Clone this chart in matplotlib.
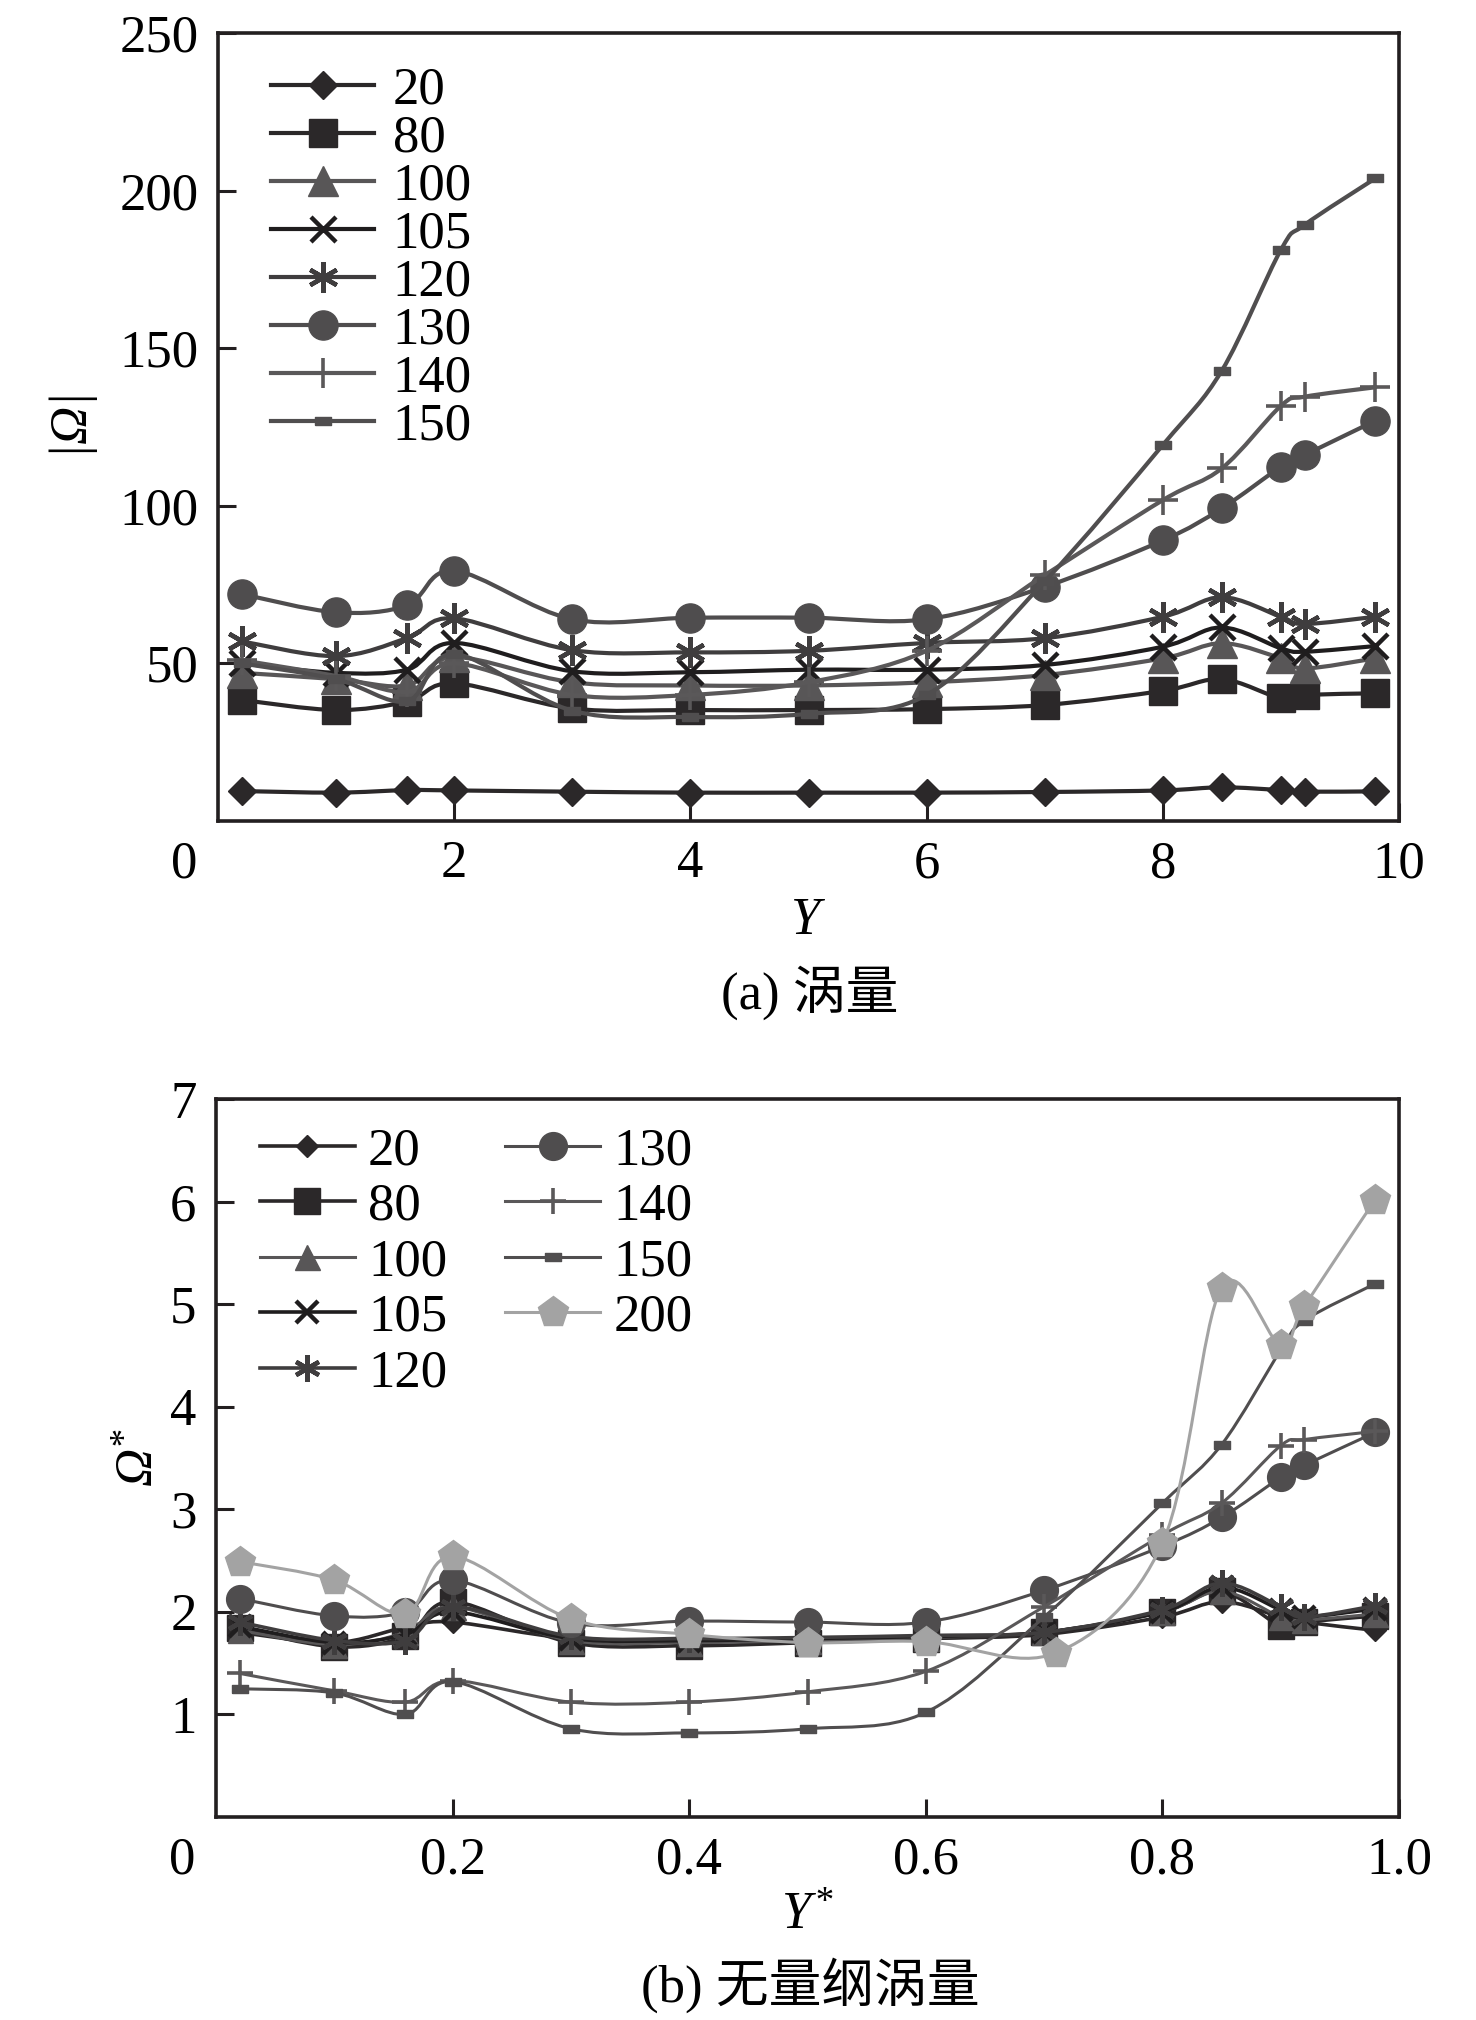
import numpy as np
import matplotlib
matplotlib.use("Agg")
import matplotlib.pyplot as plt
from matplotlib.lines import Line2D
from matplotlib.patches import PathPatch
from matplotlib.path import Path


OUTPUT_PATH = "out.png"

# panel (a): vorticity magnitude |Omega| against Y
Y_POS = [0.2, 1.0, 1.6, 2.0, 3.0, 4.0, 5.0, 6.0, 7.0, 8.0, 8.5, 9.0, 9.2, 9.8]
OMEGA_20 = [9.5, 9.0, 9.8, 9.7, 9.3, 9.0, 9.0, 9.0, 9.2, 9.7, 10.7, 9.8, 9.3, 9.4]
OMEGA_80 = [38.4, 35.2, 37.9, 43.7, 35.7, 35.2, 35.2, 35.5, 36.8, 41.3, 45.0, 38.9, 40.0, 40.5]
OMEGA_100 = [47.0, 45.0, 43.0, 52.0, 44.0, 43.0, 43.0, 44.0, 46.3, 51.6, 56.4, 51.6, 48.4, 51.6]
OMEGA_105 = [50.0, 47.0, 48.0, 56.5, 47.5, 47.2, 48.0, 48.0, 49.5, 55.3, 61.4, 54.8, 53.7, 55.5]
OMEGA_120 = [57.0, 52.3, 58.0, 64.3, 54.2, 53.5, 54.0, 56.5, 58.0, 64.8, 71.0, 64.8, 62.5, 64.8]
OMEGA_130 = [72.0, 66.2, 68.4, 79.4, 64.0, 64.5, 64.5, 64.0, 74.3, 89.0, 99.2, 112.4, 116.1, 127.0]
OMEGA_140 = [51.0, 46.0, 41.0, 50.0, 40.0, 40.0, 44.0, 54.0, 78.0, 101.8, 111.9, 131.7, 134.6, 137.6]
OMEGA_150 = [50.0, 45.0, 38.0, 53.0, 35.0, 33.0, 34.0, 40.0, 76.0, 119.3, 142.9, 181.2, 189.1, 203.9]

# panel (b): dimensionless vorticity Omega* against Y*
YSTAR_POS = [0.02, 0.10, 0.16, 0.20, 0.30, 0.40, 0.50, 0.60, 0.70, 0.80, 0.85, 0.90, 0.92, 0.98]
YSTAR_POS_200 = [0.02, 0.10, 0.16, 0.20, 0.30, 0.40, 0.50, 0.60, 0.71, 0.80, 0.85, 0.90, 0.92, 0.98]
OMEGA_STAR_20 = [1.80, 1.70, 1.85, 1.90, 1.74, 1.72, 1.72, 1.74, 1.78, 1.95, 2.10, 1.95, 1.90, 1.82]
OMEGA_STAR_80 = [1.84, 1.66, 1.76, 2.10, 1.70, 1.67, 1.70, 1.74, 1.80, 2.00, 2.20, 1.86, 1.90, 1.96]
OMEGA_STAR_100 = [1.82, 1.68, 1.80, 2.05, 1.72, 1.70, 1.72, 1.75, 1.80, 2.00, 2.20, 1.95, 1.92, 1.98]
OMEGA_STAR_105 = [1.86, 1.70, 1.78, 2.00, 1.74, 1.72, 1.74, 1.76, 1.80, 2.00, 2.24, 2.02, 1.95, 2.03]
OMEGA_STAR_120 = [1.90, 1.72, 1.72, 2.05, 1.76, 1.74, 1.75, 1.77, 1.80, 2.02, 2.28, 2.05, 1.95, 2.06]
OMEGA_STAR_130 = [2.13, 1.96, 2.00, 2.31, 1.89, 1.91, 1.90, 1.90, 2.21, 2.64, 2.92, 3.31, 3.43, 3.75]
OMEGA_STAR_140 = [1.40, 1.23, 1.12, 1.33, 1.12, 1.12, 1.22, 1.42, 2.05, 2.75, 3.06, 3.62, 3.68, 3.76]
OMEGA_STAR_150 = [1.25, 1.21, 1.00, 1.32, 0.86, 0.82, 0.86, 1.02, 1.95, 3.06, 3.63, 4.55, 4.84, 5.20]
OMEGA_STAR_200 = [2.49, 2.31, 1.98, 2.54, 1.93, 1.78, 1.70, 1.71, 1.60, 2.67, 5.16, 4.60, 4.98, 6.02]

SERIES_LABELS_A = ["20", "80", "100", "105", "120", "130", "140", "150"]
SERIES_LABELS_B = ["20", "80", "100", "105", "120", "130", "140", "150", "200"]

DASH_MARKER = [(-1.0, -0.45), (1.0, -0.45), (1.0, 0.45), (-1.0, 0.45), (-1.0, -0.45)]

# marker, colour, marker size (a), marker size (b), edge width
STYLES = {
    "20": ("D", "#2b2829", 14, 11, 1.0),
    "80": ("s", "#2b2829", 20, 19, 1.0),
    "100": ("^", "#585657", 21, 18, 1.0),
    "105": ("x", "#1f1d1e", 18, 16, 3.2),
    "120": ((6, 2, 0), "#3f3d3e", 22, 19, 3.2),
    "130": ("o", "#4f4d4e", 21, 20, 1.0),
    "140": ("+", "#5a5859", 21, 19, 2.6),
    "150": (DASH_MARKER, "#504e4f", 12, 12, 1.0),
    "200": ("p", "#a3a3a3", 23, 23, 1.0),
}

FONT_SIZE = 38
plt.rcParams["font.family"] = ["Liberation Serif", "Noto Sans CJK SC"]
plt.rcParams["mathtext.fontset"] = "custom"
# all math here is italic symbols (Omega, Y), so the roman math font is the italic face
plt.rcParams["mathtext.rm"] = "Liberation Serif:italic"
plt.rcParams["mathtext.it"] = "Liberation Serif:italic"
plt.rcParams["font.size"] = FONT_SIZE


def smooth_patch(ax, x, y, xlim, ylim, color, lw, zorder):
    # Catmull-Rom through the points as cubic Bezier, in axes space
    px = (np.asarray(x, float) - xlim[0]) / (xlim[1] - xlim[0])
    py = (np.asarray(y, float) - ylim[0]) / (ylim[1] - ylim[0])
    pts = np.column_stack([px, py])
    n = len(pts)
    verts = [pts[0]]
    codes = [Path.MOVETO]
    for i in range(n - 1):
        p0 = pts[max(i - 1, 0)]
        p1 = pts[i]
        p2 = pts[i + 1]
        p3 = pts[min(i + 2, n - 1)]
        verts += [p1 + (p2 - p0) / 6.0, p2 - (p3 - p1) / 6.0, p2]
        codes += [Path.CURVE4] * 3
    patch = PathPatch(
        Path(verts, codes),
        facecolor="none",
        edgecolor=color,
        lw=lw,
        transform=ax.transAxes,
        zorder=zorder,
        capstyle="round",
        joinstyle="round",
    )
    ax.add_patch(patch)


def draw_series(ax, x, y, label, xlim, ylim, size_index, lw, zorder):
    marker, color, ms_a, ms_b, mew = STYLES[label]
    ms = ms_a if size_index == 0 else ms_b
    smooth_patch(ax, x, y, xlim, ylim, color, lw, zorder)
    ax.plot(
        x,
        y,
        linestyle="none",
        marker=marker,
        markersize=ms,
        color=color,
        markeredgecolor=color,
        markeredgewidth=mew,
        zorder=zorder + 0.5,
        clip_on=False,
    )
    return Line2D(
        [], [],
        color=color,
        lw=lw,
        marker=marker,
        markersize=ms,
        markeredgecolor=color,
        markeredgewidth=mew,
        label=label,
    )


def format_axis(ax, xlim, ylim, xticks, xticklabels, yticks):
    ax.set_xlim(xlim)
    ax.set_ylim(ylim)
    ax.set_xticks(xticks)
    ax.set_xticklabels(xticklabels)
    ax.set_yticks(yticks)
    ax.tick_params(
        direction="in",
        length=13,
        width=2.2,
        labelsize=FONT_SIZE,
        color="#231f20",
        top=False,
        right=False,
    )
    ax.tick_params(axis="x", pad=14)
    ax.tick_params(axis="y", pad=14)
    for spine in ax.spines.values():
        spine.set_linewidth(2.6)
        spine.set_color("#231f20")
    ax.annotate(
        "0",
        xy=(-0.029, 0),
        xycoords="axes fraction",
        xytext=(0, -44),
        textcoords="offset pixels",
        ha="center",
        va="center",
        fontsize=FONT_SIZE,
    )


def plot_panel_a(fig):
    ax = fig.add_axes([218 / 1476, 1 - 821 / 2020, 1181 / 1476, 788 / 2020])
    xlim = (0, 10)
    ylim = (0, 250)
    series = [OMEGA_20, OMEGA_80, OMEGA_100, OMEGA_105, OMEGA_120, OMEGA_130, OMEGA_140, OMEGA_150]
    handles = []
    for k, (label, values) in enumerate(zip(SERIES_LABELS_A, series)):
        handles.append(draw_series(ax, Y_POS, values, label, xlim, ylim, 0, 3.0, 2 + k))

    format_axis(ax, xlim, ylim, [2, 4, 6, 8, 10], ["2", "4", "6", "8", "10"], [50, 100, 150, 200, 250])
    ax.set_xlabel(r"$Y$", fontsize=FONT_SIZE, labelpad=6)
    ax.set_ylabel(r"$|\Omega|$", fontsize=FONT_SIZE, labelpad=14)

    ax.legend(
        handles=handles,
        loc="upper left",
        bbox_to_anchor=(0.045, 0.957),
        frameon=False,
        borderpad=0,
        borderaxespad=0,
        handlelength=1.95,
        handletextpad=0.35,
        labelspacing=0.0,
        fontsize=FONT_SIZE,
    )
    fig.text(810 / 1476, 1 - 993 / 2020, "(a) 涡量", ha="center", va="center", fontsize=FONT_SIZE)


def plot_panel_b(fig):
    ax = fig.add_axes([216 / 1476, 1 - 1817 / 2020, 1183 / 1476, 718 / 2020])
    xlim = (0, 1.0)
    ylim = (0, 7)
    series = [
        (YSTAR_POS, OMEGA_STAR_20),
        (YSTAR_POS, OMEGA_STAR_80),
        (YSTAR_POS, OMEGA_STAR_100),
        (YSTAR_POS, OMEGA_STAR_105),
        (YSTAR_POS, OMEGA_STAR_120),
        (YSTAR_POS, OMEGA_STAR_130),
        (YSTAR_POS, OMEGA_STAR_140),
        (YSTAR_POS, OMEGA_STAR_150),
        (YSTAR_POS_200, OMEGA_STAR_200),
    ]
    handles = []
    for k, (label, (xs, values)) in enumerate(zip(SERIES_LABELS_B, series)):
        lw = 2.6 if label in ("20", "80", "105", "120") else 2.2
        handles.append(draw_series(ax, xs, values, label, xlim, ylim, 1, lw, 2 + k))

    format_axis(
        ax, xlim, ylim,
        [0.2, 0.4, 0.6, 0.8, 1.0],
        ["0.2", "0.4", "0.6", "0.8", "1.0"],
        [1, 2, 3, 4, 5, 6, 7],
    )
    ax.set_xlabel(r"$Y^{*}$", fontsize=FONT_SIZE, labelpad=6)
    ax.set_ylabel(r"$\Omega^{*}$", fontsize=FONT_SIZE, labelpad=4)

    ax.legend(
        handles=handles,
        loc="upper left",
        bbox_to_anchor=(0.037, 0.961),
        ncol=2,
        frameon=False,
        borderpad=0,
        borderaxespad=0,
        handlelength=1.8,
        handletextpad=0.25,
        labelspacing=0.145,
        columnspacing=1.1,
        fontsize=FONT_SIZE,
    )
    fig.text(810 / 1476, 1 - 1985 / 2020, "(b) 无量纲涡量", ha="center", va="center", fontsize=FONT_SIZE)


def run_plot():
    fig = plt.figure(figsize=(14.76, 20.20), dpi=100)
    plot_panel_a(fig)
    plot_panel_b(fig)
    fig.savefig(OUTPUT_PATH, dpi=100, facecolor="white")
    plt.close(fig)


if __name__ == "__main__":
    run_plot()
